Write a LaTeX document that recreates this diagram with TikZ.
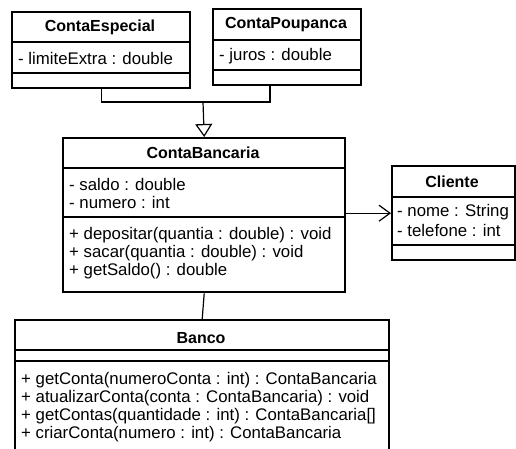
\documentclass[tikz,border=0pt]{standalone}
\usepackage{fontspec}
\setmainfont{Liberation Sans}
\usetikzlibrary{arrows.meta}

\tikzset{
  classbox/.style={draw,line width=2.4pt,fill=white,inner sep=0pt,anchor=north west},
  sepline/.style={line width=1.2pt},
  title/.style={font=\fontsize{16}{18.4}\selectfont\bfseries,inner sep=0pt},
  member/.style={font=\fontsize{16.8}{18.4}\selectfont,inner sep=0pt,anchor=west},
  link/.style={line width=1.2pt}
}

\begin{document}
\begin{tikzpicture}[x=1pt,y=-1pt]
  \clip (0,0) rectangle (516,448);
  \fill[white] (0,0) rectangle (516,448);
  % ContaEspecial
  \node[classbox,minimum width=178,minimum height=76] (esp) at (11,11) {};
  \node[title] (espT) at (100,27) {ContaEspecial};
  \draw[sepline] (esp.west |- 0,42) -- (esp.east |- 0,42);
  \node[member] (espA) at (18,58) {- limiteExtra : double};
  \draw[sepline] (esp.west |- 0,73) -- (esp.east |- 0,73);
  % ContaPoupanca
  \node[classbox,minimum width=148,minimum height=76] (pou) at (212,8) {};
  \node[title] (pouT) at (286,25) {ContaPoupanca};
  \draw[sepline] (pou.west |- 0,40) -- (pou.east |- 0,40);
  \node[member] (pouA) at (219,56) {- juros : double};
  \draw[sepline] (pou.west |- 0,70) -- (pou.east |- 0,70);
  % ContaBancaria
  \node[classbox,minimum width=282,minimum height=154] (cb) at (62,137) {};
  \node[title] (cbT) at (203,153) {ContaBancaria};
  \draw[sepline] (cb.west |- 0,168) -- (cb.east |- 0,168);
  \node[member] (cbA1) at (69,184) {- saldo : double};
  \node[member] (cbA2) at (69,202) {- numero : int};
  \draw[sepline] (cb.west |- 0,217) -- (cb.east |- 0,217);
  \node[member] (cbM1) at (69,235) {+ depositar(quantia : double) : void};
  \node[member] (cbM2) at (69,253) {+ sacar(quantia : double) : void};
  \node[member] (cbM3) at (69,271) {+ getSaldo() : double};
  % Cliente
  \node[classbox,minimum width=123,minimum height=94] (cli) at (391,165) {};
  \node[title] (cliT) at (452,182) {Cliente};
  \draw[sepline] (cli.west |- 0,197) -- (cli.east |- 0,197);
  \node[member] (cliA1) at (397,212) {- nome : String};
  \node[member] (cliA2) at (397,230) {- telefone : int};
  \draw[sepline] (cli.west |- 0,245) -- (cli.east |- 0,245);
  % Banco
  \node[classbox,minimum width=374,minimum height=150] (ban) at (14,319) {};
  \node[title] (banT) at (201,338) {Banco};
  \draw[sepline] (ban.west |- 0,350) -- (ban.east |- 0,350);
  \draw[sepline] (ban.west |- 0,361) -- (ban.east |- 0,361);
  \node[member] (banM1) at (21,380) {+ getConta(numeroConta : int) : ContaBancaria};
  \node[member] (banM2) at (21,398) {+ atualizarConta(conta : ContaBancaria) : void};
  \node[member] (banM3) at (21,416) {+ getContas(quantidade : int) : ContaBancaria[]};
  \node[member] (banM4) at (21,434) {+ criarConta(numero : int) : ContaBancaria};
  % heranca
  \coordinate (join) at (203,102);
  \coordinate (pouS) at (270,84);
  \draw[link] (esp.south) |- (join) -| (pouS);
  \draw[link,-{Triangle[open,length=13pt,width=17pt,fill=white]}] (join) -- (cb.north);
  % associacoes
  \draw[link,-{Straight Barb[length=11pt,width=16pt]}] (cli.west -| cb.east) -- (cli.west);
  \draw[link] (cb.south) -- (ban.north);
\end{tikzpicture}
\end{document}
